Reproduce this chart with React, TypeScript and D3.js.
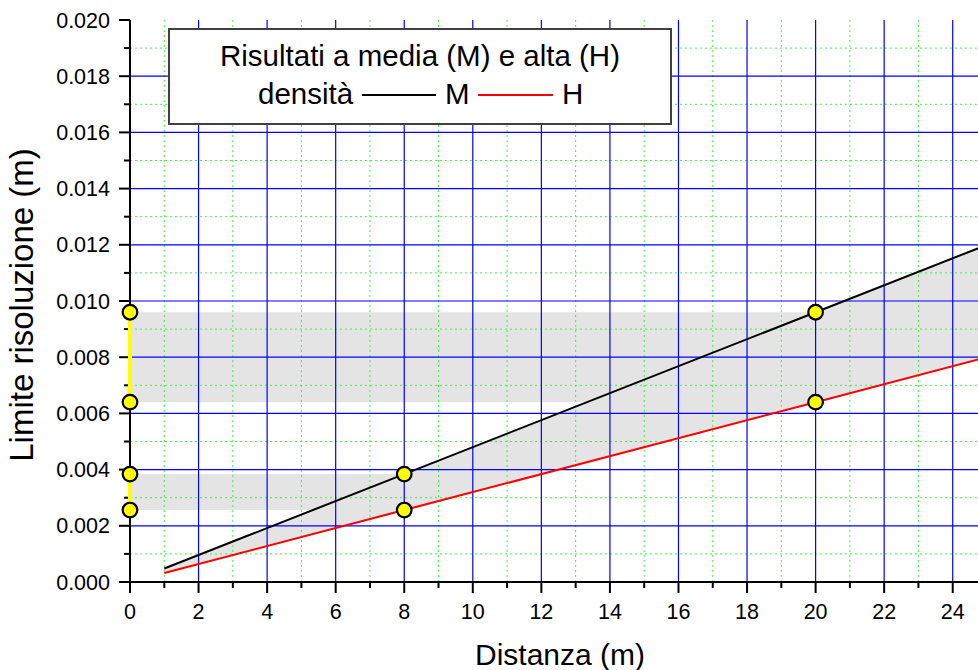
import React, { useRef, useEffect } from "react";
import * as d3 from "d3";

// measured points (distance in m, resolution limit in m)
const distances = [1, 8, 20, 25];
const valuesM = [0.00048, 0.00384, 0.0096, 0.012];
const valuesH = [0.00032, 0.00256, 0.0064, 0.008];

// yellow markers at 8 m and 20 m
const markerDist = [8, 20];
const markerM = [0.00384, 0.0096];
const markerH = [0.00256, 0.0064];

const xMajor = [0, 2, 4, 6, 8, 10, 12, 14, 16, 18, 20, 22, 24];
const xMinor = [1, 3, 5, 7, 9, 11, 13, 15, 17, 19, 21, 23, 25];
const yMajor = [0, 0.002, 0.004, 0.006, 0.008, 0.01, 0.012, 0.014, 0.016, 0.018, 0.02];
const yMinor = [0.001, 0.003, 0.005, 0.007, 0.009, 0.011, 0.013, 0.015, 0.017, 0.019];

const W = 978;
const H = 670;
const FONT = "Liberation Sans, Arial, sans-serif";

export default function App() {
  const ref = useRef<SVGSVGElement>(null);

  useEffect(() => {
    const svg = d3.select(ref.current);
    svg.selectAll("*").remove();

    const x = d3.scaleLinear().domain([0, 25]).range([130, 987]);
    const y = d3.scaleLinear().domain([0, 0.02]).range([582, 20]);

    svg
      .append("defs")
      .append("clipPath")
      .attr("id", "plot")
      .append("rect")
      .attr("x", x(0))
      .attr("y", y(0.02))
      .attr("width", x(25) - x(0))
      .attr("height", y(0) - y(0.02));

    const fillGrey = "#e4e4e4";
    const plot = svg.append("g").attr("clip-path", "url(#plot)");

    // grey bands from the y axis to where each pair of markers sits
    markerDist.forEach((d, i) => {
      plot
        .append("rect")
        .attr("x", x(0))
        .attr("y", y(markerM[i]))
        .attr("width", x(d) - x(0))
        .attr("height", y(markerH[i]) - y(markerM[i]))
        .attr("fill", fillGrey);
    });

    // wedge between the two lines
    const rows = distances.map((d, i) => ({ d, m: valuesM[i], h: valuesH[i] }));
    const area = d3
      .area<{ d: number; m: number; h: number }>()
      .x((r) => x(r.d))
      .y0((r) => y(r.h))
      .y1((r) => y(r.m));
    plot.append("path").datum(rows).attr("d", area).attr("fill", fillGrey);

    // grid
    const minor = "#44ee44";
    plot
      .selectAll(".gxm")
      .data(xMinor)
      .join("line")
      .attr("x1", (d) => x(d))
      .attr("x2", (d) => x(d))
      .attr("y1", y(0.02))
      .attr("y2", y(0))
      .attr("stroke", minor)
      .attr("stroke-dasharray", "2,3")
      .attr("stroke-width", 1);
    plot
      .selectAll(".gym")
      .data(yMinor)
      .join("line")
      .attr("x1", x(0))
      .attr("x2", x(25))
      .attr("y1", (d) => y(d))
      .attr("y2", (d) => y(d))
      .attr("stroke", minor)
      .attr("stroke-dasharray", "2,3")
      .attr("stroke-width", 1);
    plot
      .selectAll(".gx")
      .data(xMajor.slice(1))
      .join("line")
      .attr("x1", (d) => x(d))
      .attr("x2", (d) => x(d))
      .attr("y1", y(0.02))
      .attr("y2", y(0))
      .attr("stroke", "#0000ff")
      .attr("stroke-width", 1.2);
    plot
      .selectAll(".gy")
      .data(yMajor.slice(1, -1))
      .join("line")
      .attr("x1", x(0))
      .attr("x2", x(25))
      .attr("y1", (d) => y(d))
      .attr("y2", (d) => y(d))
      .attr("stroke", "#0000ff")
      .attr("stroke-width", 1.2);

    // data lines
    const lineOf = d3
      .line<number>()
      .x((_, i) => x(distances[i]))
      .y((v) => y(v));
    plot.append("path").datum(valuesM).attr("d", lineOf).attr("fill", "none").attr("stroke", "#000").attr("stroke-width", 2);
    plot.append("path").datum(valuesH).attr("d", lineOf).attr("fill", "none").attr("stroke", "#ff0000").attr("stroke-width", 2);

    // axes
    const ax = svg.append("g").attr("stroke", "#000").attr("stroke-width", 2);
    ax.append("line").attr("x1", x(0)).attr("x2", W).attr("y1", y(0)).attr("y2", y(0));
    ax.append("line").attr("x1", x(0)).attr("x2", x(0)).attr("y1", y(0.02)).attr("y2", y(0) + 1);
    ax.selectAll(".tx").data(xMajor).join("line")
      .attr("x1", (d) => x(d)).attr("x2", (d) => x(d)).attr("y1", y(0)).attr("y2", y(0) + 11);
    ax.selectAll(".txm").data(xMinor).join("line")
      .attr("x1", (d) => x(d)).attr("x2", (d) => x(d)).attr("y1", y(0)).attr("y2", y(0) + 6);
    ax.selectAll(".ty").data(yMajor).join("line")
      .attr("x1", x(0) - 11).attr("x2", x(0)).attr("y1", (d) => y(d)).attr("y2", (d) => y(d));
    ax.selectAll(".tym").data(yMinor).join("line")
      .attr("x1", x(0) - 6).attr("x2", x(0)).attr("y1", (d) => y(d)).attr("y2", (d) => y(d));

    const fmt = d3.format(".3f");
    svg.append("g").selectAll("text").data(yMajor).join("text")
      .attr("x", 110).attr("y", (d) => y(d) + 7.5)
      .attr("text-anchor", "end").attr("font-size", 21.5).attr("font-family", FONT)
      .text((d) => fmt(d));
    svg.append("g").selectAll("text").data(xMajor).join("text")
      .attr("x", (d) => x(d)).attr("y", 619)
      .attr("text-anchor", "middle").attr("font-size", 21.5).attr("font-family", FONT)
      .text((d) => String(d));

    svg.append("text")
      .attr("x", 560).attr("y", 665).attr("text-anchor", "middle")
      .attr("font-size", 30).attr("font-family", FONT)
      .text("Distanza (m)");
    svg.append("text")
      .attr("transform", `translate(33,${(y(0) + y(0.02)) / 2 + 4}) rotate(-90)`)
      .attr("text-anchor", "middle")
      .attr("font-size", 33).attr("font-family", FONT)
      .text("Limite risoluzione (m)");

    // yellow links on the y axis and markers
    const mk = svg.append("g");
    markerDist.forEach((_, i) => {
      mk.append("line")
        .attr("x1", x(0)).attr("x2", x(0))
        .attr("y1", y(markerM[i])).attr("y2", y(markerH[i]))
        .attr("stroke", "#ffff00").attr("stroke-width", 4);
    });
    const pts: [number, number][] = [];
    markerDist.forEach((d, i) => {
      pts.push([0, markerM[i]], [0, markerH[i]], [d, markerM[i]], [d, markerH[i]]);
    });
    mk.selectAll("circle").data(pts).join("circle")
      .attr("cx", (p) => x(p[0])).attr("cy", (p) => y(p[1])).attr("r", 7.3)
      .attr("fill", "#ffff00").attr("stroke", "#000").attr("stroke-width", 2.2);

    // legend
    const lg = svg.append("g");
    lg.append("rect")
      .attr("x", 169).attr("y", 29).attr("width", 502).attr("height", 95)
      .attr("fill", "#fff").attr("stroke", "#404040").attr("stroke-width", 2);
    lg.append("text")
      .attr("x", 420).attr("y", 66).attr("text-anchor", "middle")
      .attr("font-size", 29.5).attr("font-family", FONT)
      .text("Risultati a media (M) e alta (H)");
    lg.append("text").attr("x", 258).attr("y", 104).attr("font-size", 29.5).attr("font-family", FONT).text("densità");
    lg.append("line").attr("x1", 362).attr("x2", 436).attr("y1", 95).attr("y2", 95).attr("stroke", "#000").attr("stroke-width", 2);
    lg.append("text").attr("x", 445).attr("y", 104).attr("font-size", 29.5).attr("font-family", FONT).text("M");
    lg.append("line").attr("x1", 478).attr("x2", 553).attr("y1", 95).attr("y2", 95).attr("stroke", "#ff0000").attr("stroke-width", 2);
    lg.append("text").attr("x", 562).attr("y", 104).attr("font-size", 29.5).attr("font-family", FONT).text("H");
  }, []);

  return (
    <svg
      ref={ref}
      width={W}
      height={H}
      style={{ position: "absolute", left: 0, top: 0, background: "#fff" }}
    />
  );
}
